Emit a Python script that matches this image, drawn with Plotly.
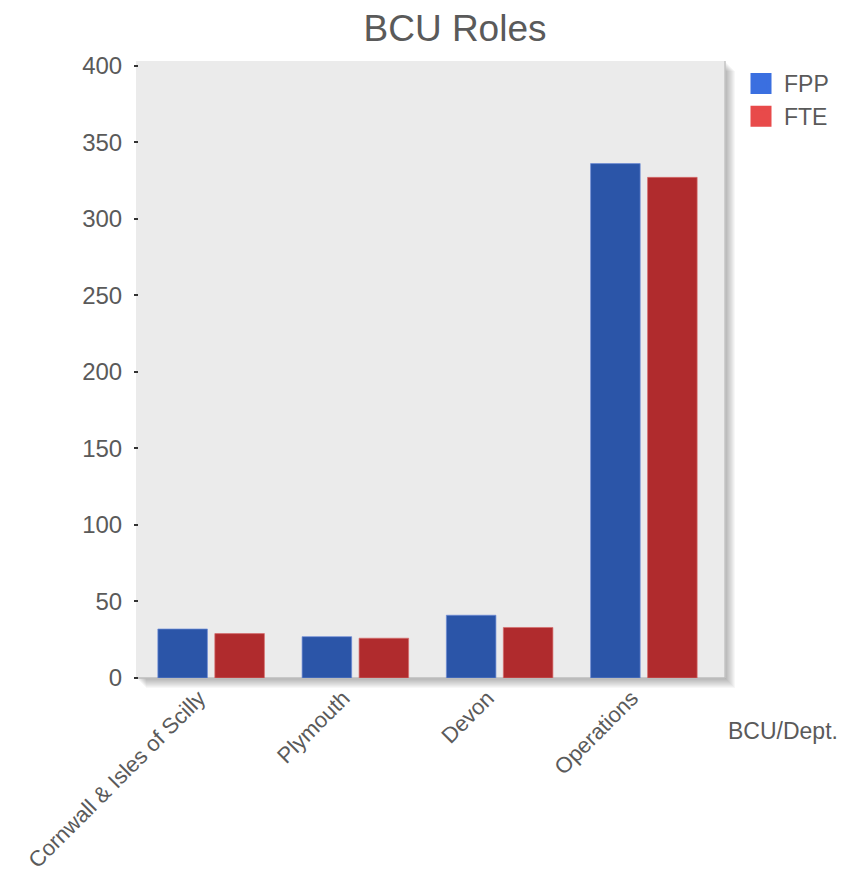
import plotly.graph_objects as go

categories = ["Cornwall & Isles of Scilly", "Plymouth", "Devon", "Operations"]
fpp = [32, 27, 41, 336]
fte = [29, 26, 33, 327]
series_names = ["FPP", "FTE"]
y_ticks = [0, 50, 100, 150, 200, 250, 300, 350, 400]

BLUE = "#2b55a8"
RED = "#b02b2d"
TXT = "#5a5a5a"
FONT = "Liberation Sans, Arial, sans-serif"

fig = go.Figure()
fig.add_trace(go.Bar(x=categories, y=fpp, name=series_names[0], showlegend=False,
                     legendgroup="a",
                     marker=dict(color=BLUE, line=dict(color="rgba(110,140,215,0.7)", width=1))))
fig.add_trace(go.Bar(x=categories, y=fte, name=series_names[1], showlegend=False,
                     legendgroup="b",
                     marker=dict(color=RED, line=dict(color="rgba(215,110,110,0.7)", width=1))))
# legend entries
fig.add_trace(go.Scatter(x=[None], y=[None], mode="markers", name=series_names[0], legendgroup="a",
                         marker=dict(symbol="square", size=16, color="#3a6fe0",
                                     line=dict(color="#3a6fe0", width=5))))
fig.add_trace(go.Scatter(x=[None], y=[None], mode="markers", name=series_names[1], legendgroup="b",
                         marker=dict(symbol="square", size=16, color="#e84a4a",
                                     line=dict(color="#e84a4a", width=5))))

L, R, T, B = 139, 129, 61, 205
W, H = 845, 883
pw, ph = W - L - R, H - T - B
bg_x0 = -3 / pw          # background starts a bit left of the first category slot
bg_x1 = 1 + 9 / pw       # and extends a bit right of the last one

shapes = []
# drop shadow of plot area
for k in range(1, 11):
    shapes.append(dict(type="rect", xref="paper", yref="paper", layer="below",
                       x0=bg_x0 + k / pw, x1=bg_x1 + k / pw, y0=-k / ph, y1=1 - k / ph,
                       fillcolor="rgba(0,0,0,0.03)", line=dict(width=0)))
# plot background on top of the shadow
shapes.append(dict(type="rect", xref="paper", yref="paper", layer="below",
                   x0=bg_x0, x1=bg_x1, y0=0, y1=1, fillcolor="#ebebeb", line=dict(width=0)))
# right and bottom border
shapes.append(dict(type="line", xref="paper", yref="paper", layer="below", x0=bg_x1, x1=bg_x1,
                   y0=0, y1=1, line=dict(color="#c4c4c4", width=1.5)))
shapes.append(dict(type="line", xref="paper", yref="paper", layer="below", x0=bg_x0, x1=bg_x1,
                   y0=0, y1=0, line=dict(color="#bdbdbd", width=1.5)))

fig.update_layout(
    width=W, height=H,
    margin=dict(l=L, r=R, t=T, b=B, autoexpand=False),
    paper_bgcolor="white",
    plot_bgcolor="rgba(0,0,0,0)",
    font=dict(family=FONT, color=TXT, size=24),
    title=dict(text="BCU Roles", x=455 / W, xanchor="center", y=1 - 28 / H, yanchor="middle",
               font=dict(size=37, color=TXT, family=FONT)),
    barmode="group",
    bargap=0.21,
    bargroupgap=0.13,
    showlegend=True,
    legend=dict(x=(738 - L) / pw, xanchor="left", y=1 - (62 - T) / ph, yanchor="top",
                font=dict(size=23, color=TXT), bgcolor="rgba(0,0,0,0)",
                itemwidth=36, tracegroupgap=0),
    shapes=shapes,
    annotations=[dict(text="BCU/Dept.", xref="paper", yref="paper", x=(726 - L) / pw,
                      xanchor="left", y=(678 - 731) / ph, yanchor="middle",
                      showarrow=False, font=dict(size=23, color=TXT))],
)
fig.update_xaxes(showgrid=False, tickangle=-45, ticks="", showline=False,
                 ticklabelshift=-12, ticklabelstandoff=2,
                 tickfont=dict(size=22, color=TXT))
fig.update_yaxes(range=[0, 403], tickvals=y_ticks, showgrid=False, zeroline=False,
                 ticks="outside", ticklen=4, tickwidth=2, tickcolor="#333",
                 ticklabelstandoff=7, tickfont=dict(size=24, color=TXT))

fig.write_html("out.html", config={"displayModeBar": False},
               post_script="document.body.style.margin='0';document.body.style.padding='0';")
